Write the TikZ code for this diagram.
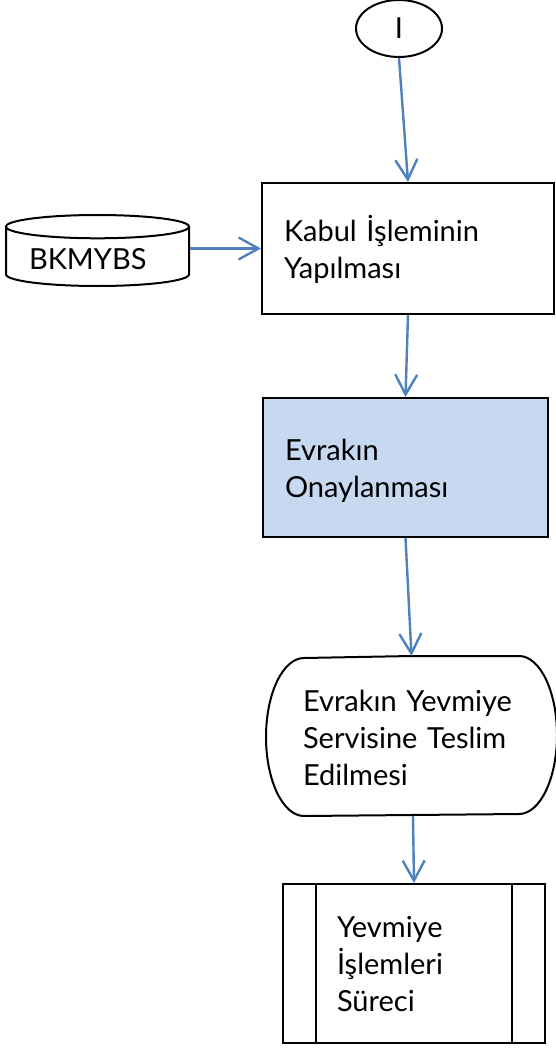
\documentclass[tikz,border=0pt]{standalone}
\usepackage{fontspec}
\setmainfont{Lato}
\usetikzlibrary{arrows.meta,shapes.geometric}
\definecolor{flowblue}{HTML}{4F81BD}
\definecolor{onayfill}{HTML}{C6D9F1}
\begin{document}
\begin{tikzpicture}[x=0.5pt,y=-0.5pt,
every node/.style={font=\fontsize{14.5pt}{18.5pt}\selectfont, line width=1pt},
flowline/.style={draw=flowblue, line width=1.2pt, -{Straight Barb[length=10pt,width=11pt]}},
procbox/.style={draw, rectangle, inner xsep=0pt, align=left, text height=14pt},
subproc/.style={procbox, path picture={
  \draw[line width=1pt] ([xshift=16.5pt]path picture bounding box.north west) -- ([xshift=16.5pt]path picture bounding box.south west);
  \draw[line width=1pt] ([xshift=-16.5pt]path picture bounding box.north east) -- ([xshift=-16.5pt]path picture bounding box.south east);}}]
\useasboundingbox (0,0) rectangle (556,1048);
\node [draw, ellipse, minimum width=43pt, minimum height=28.5pt, inner sep=0pt] (baslangic) at (399,28.5) {I};
\node [draw, cylinder, shape border rotate=90, aspect=0.17, minimum width=91.5pt, minimum height=35.5pt, inner sep=0pt,
  text width=68.5pt, align=left, anchor=south] (bkmybs) at (97.5,287) {\raisebox{-6.5pt}[0pt][0pt]{BKMYBS}};
\node [procbox, minimum width=146pt, minimum height=65.5pt, text width=124pt] (kabul) at (408,248.5) {Kabul İşleminin\\Yapılması};
\node [procbox, fill=onayfill, minimum width=142.5pt, minimum height=69.5pt, text width=120.5pt] (onay) at (405.5,467.5) {Evrakın\\Onaylanması};
\node [inner xsep=0pt, align=left, text height=13pt, minimum width=144.5pt, minimum height=79pt, text width=108.5pt] (teslim) at (411.5,736) {Evrakın Yevmiye\\Servisine Teslim\\Edilmesi};
\draw [line width=1pt] (teslim.north) -- ([xshift=-19pt]teslim.north east) arc[start angle=90, end angle=-90, x radius=19pt, y radius=39.5pt]
  -- ([xshift=19pt]teslim.south west) arc[start angle=270, end angle=90, x radius=19pt, y radius=39.5pt] -- cycle;
\node [subproc, text height=11pt, minimum width=131pt, minimum height=79.5pt, text width=77pt] (yevmiye) at (414,963.5) {Yevmiye\\İşlemleri\\Süreci};
\draw [flowline] (baslangic.south) -- (kabul.north);
\draw [flowline] (bkmybs.east |- kabul.west) -- (kabul.west);
\draw [flowline] (kabul.south) -- (onay.north);
\draw [flowline] (onay.south) -- (teslim.north);
\draw [flowline] ([xshift=0.75pt]teslim.south) -- (yevmiye.north);
\end{tikzpicture}
\end{document}
